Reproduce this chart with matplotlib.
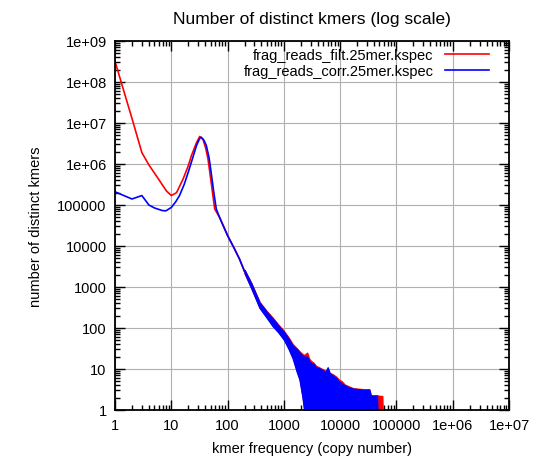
import matplotlib
matplotlib.use("Agg")
import matplotlib.pyplot as plt
from matplotlib.ticker import FixedLocator, LogLocator, NullFormatter

plt.rcParams['font.family'] = ['Liberation Sans', 'DejaVu Sans']

# smooth part of the spectra (copy number, distinct kmers)
filt_x = [1, 2, 3, 4, 5.5, 8.2, 10, 12.4, 16.2, 20, 22.8, 28, 32, 36.6, 41, 45, 52, 59, 72,
          100, 130, 163, 200]
filt_y = [3.2e8, 1.3e7, 1.9e6, 9.5e5, 5e5, 2.2e5, 1.7e5, 2e5, 4.3e5, 9e5, 1.6e6, 3.3e6, 4.7e6, 4e6,
          2.4e6, 1.3e6, 3e5, 8e4, 5e4, 1.8e4, 9e3, 4.8e3, 2.4e3]
corr_x = [1, 2, 3, 4, 5, 6, 7, 8, 10, 12, 14, 17, 20, 24, 28, 32, 34, 38, 42, 47, 51, 57, 63, 72,
          100, 130, 163, 200]
corr_y = [2.1e5, 1.4e5, 1.7e5, 1.0e5, 8.5e4, 7.8e4, 7.3e4, 7.2e4, 8.7e4, 1.2e5, 1.7e5, 3.2e5, 6.3e5,
          1.4e6, 2.8e6, 4.2e6, 4.5e6, 3.8e6, 2.8e6, 1.4e6, 6.3e5, 2e5, 8e4, 5e4, 1.8e4, 9e3, 4.8e3,
          2.4e3]

# noisy high-copy tail: low / high envelope of the counts
filt_tail_x = [200, 264, 370, 500, 630, 800, 1000, 1200, 1440, 1700, 1900, 2150, 2300, 2600, 2800,
               3000, 3400, 3700, 4200, 4800, 5500, 6000, 6500, 7300, 8500, 9500, 10700, 12000,
               14000, 17000, 21000, 26000, 33000, 35000, 40000, 45000, 50000, 56000, 57000]
filt_tail_lo = [2.2e3, 950, 320, 185, 120, 82, 54, 34, 19.5, 9, 5.8, 2.2, 1, 1, 1,
                1, 1, 1, 1, 1, 1, 1, 1, 1, 1, 1, 1, 1,
                1, 1, 1, 1, 1, 1, 1, 1, 1, 1, 1]
filt_tail_hi = [2.6e3, 1.25e3, 430, 255, 180, 120, 85, 60, 40, 32, 27, 23, 22, 25, 18,
                16, 14, 12, 11, 10, 9, 9.5, 8, 7.5, 6.5, 5.5, 5, 4.2,
                3.8, 3.4, 3.3, 3.2, 3.2, 2.3, 2.3, 2.3, 2.2, 2.2, 1]
corr_tail_x = [200, 264, 370, 500, 630, 800, 1000, 1200, 1440, 1700, 1900, 2150, 2300, 2600, 2800,
               3000, 3400, 3700, 4200, 4800, 5500, 6000, 6500, 7300, 8500, 9500, 10700, 12000,
               14000, 17000, 21000, 26000, 33000, 35000, 40000, 45000, 46000]
corr_tail_lo = [2.2e3, 930, 310, 175, 112, 78, 52, 32, 18, 8.5, 5.5, 2, 1, 1, 1,
                1, 1, 1, 1, 1, 1, 1, 1, 1, 1, 1, 1, 1,
                1, 1, 1, 1, 1, 1, 1, 1, 1]
corr_tail_hi = [2.6e3, 1.22e3, 420, 245, 170, 115, 80, 56, 37, 30, 25, 21, 20, 20, 16,
                14, 13, 11, 10.5, 9.5, 8.5, 11, 8, 7, 6, 5, 4.4, 4,
                3.6, 3.3, 3.2, 3.1, 3.1, 2.2, 2.2, 2.2, 1]

x_ticks = [1, 10, 100, 1000, 1e4, 1e5, 1e6, 1e7]
x_labels = ['1', '10', '100', '1000', '10000', '100000', '1e+06', '1e+07']
y_ticks = [1, 10, 100, 1000, 1e4, 1e5, 1e6, 1e7, 1e8, 1e9]
y_labels = ['1', '10', '100', '1000', '10000', '100000', '1e+06', '1e+07', '1e+08', '1e+09']

fig = plt.figure(figsize=(5.43, 4.60), dpi=100)
ax = fig.add_axes([115/543, 1-411/460, 394/543, 369/460])

red, blue = '#ff0000', '#0000ff'
ax.fill_between(filt_tail_x, filt_tail_lo, filt_tail_hi, color=red, lw=1.0, edgecolor=red)
ax.fill_between(corr_tail_x, corr_tail_lo, corr_tail_hi, color=blue, lw=1.0, edgecolor=blue)
ax.plot(filt_x, filt_y, color=red, lw=1.2, label='frag_reads_filt.25mer.kspec')
ax.plot(corr_x, corr_y, color=blue, lw=1.2, label='frag_reads_corr.25mer.kspec')

ax.set_xscale('log')
ax.set_yscale('log')
ax.set_xlim(1, 1e7)
ax.set_ylim(1, 1e9)
ax.xaxis.set_major_locator(FixedLocator(x_ticks))
ax.set_xticklabels(x_labels)
ax.yaxis.set_major_locator(FixedLocator(y_ticks))
ax.set_yticklabels(y_labels)
ax.xaxis.set_minor_locator(LogLocator(base=10, subs=range(2, 10), numticks=20))
ax.yaxis.set_minor_locator(LogLocator(base=10, subs=range(2, 10), numticks=20))
ax.xaxis.set_minor_formatter(NullFormatter())
ax.yaxis.set_minor_formatter(NullFormatter())
ax.tick_params(which='both', direction='in', top=True, right=True, labelsize=10.5, width=1)
ax.tick_params(which='major', length=7, pad=6)
ax.tick_params(which='minor', length=3.5)
ax.grid(True, which='major', color='#b0b0b0', lw=0.8)
ax.set_axisbelow(True)
for s in ax.spines.values():
    s.set_linewidth(1.3)

ax.set_title('Number of distinct kmers (log scale)', fontsize=12.5, pad=13)
ax.set_xlabel('kmer frequency (copy number)', fontsize=10.5, labelpad=6)
ax.set_ylabel('number of distinct kmers', fontsize=10.5, labelpad=10)
ax.legend(loc='upper right', bbox_to_anchor=(0.975, 1.008), frameon=False, markerfirst=False,
          fontsize=10.5, handlelength=3.0, labelspacing=0.1, borderaxespad=0.3, handletextpad=0.8)

fig.savefig('out.png', dpi=100)
